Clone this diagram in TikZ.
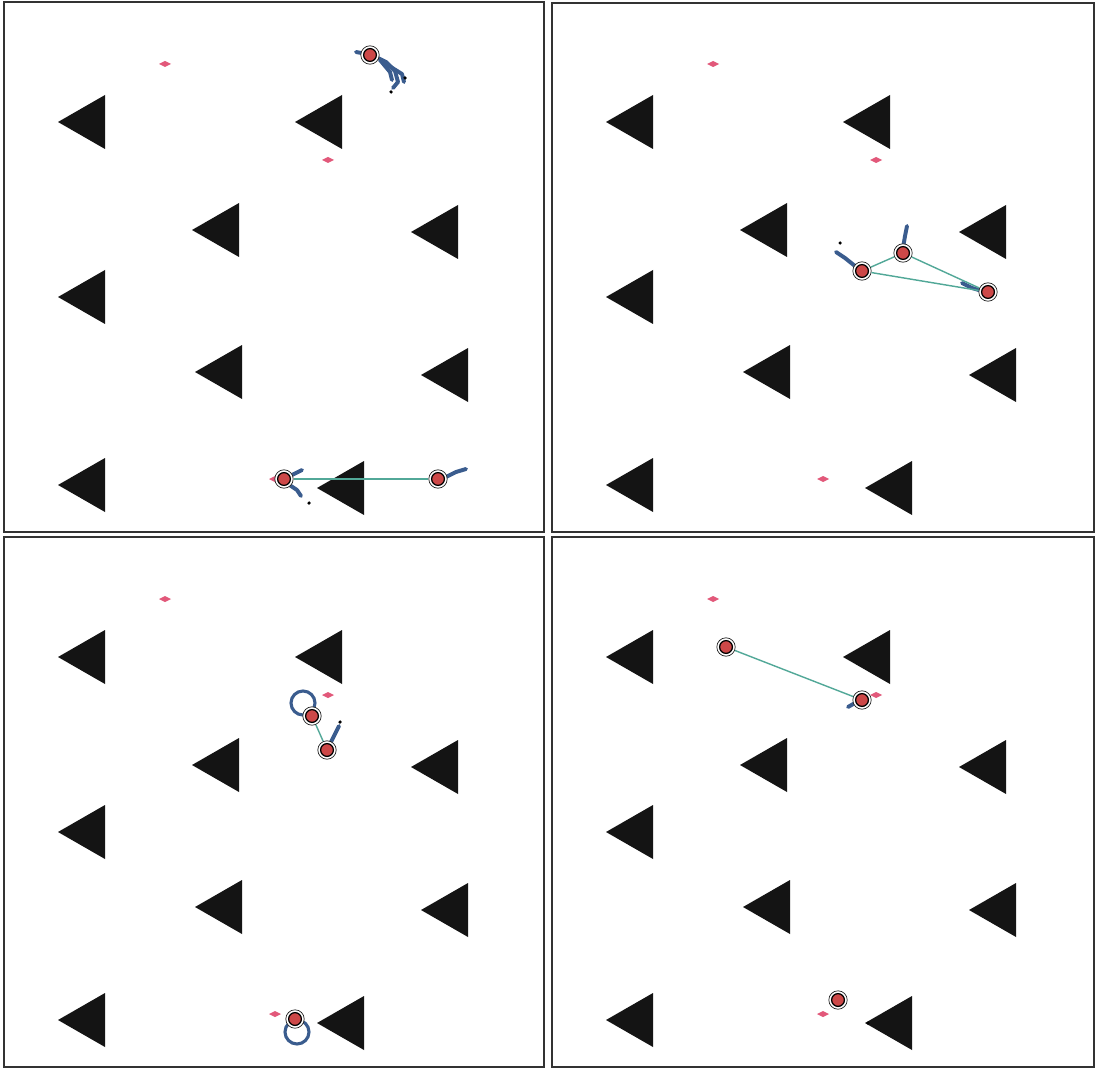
\documentclass[tikz,border=0pt]{standalone}
\usepackage{xcolor}
\usepackage{tikz}
\usetikzlibrary{arrows.meta,positioning,shapes.geometric}

\definecolor{goalpink}{RGB}{226,88,122}
\definecolor{linkteal}{RGB}{82,168,152}
\definecolor{trailblue}{RGB}{58,92,142}
\definecolor{bodyred}{RGB}{205,72,72}
\definecolor{obstblack}{RGB}{20,20,20}

\newcommand{\obst}[2]{\fill[obstblack] (#1,#2) -- ++(47,-27) -- ++(0,54) -- cycle;}
\newcommand{\goal}[2]{\fill[goalpink] (#1,#2) +(-6,0) -- +(0,-3) -- +(6,0) -- +(0,3) -- cycle;}
\newcommand{\field}{%
  \obst{58}{122} \obst{295}{122}
  \obst{192}{230} \obst{411}{232}
  \obst{58}{297}
  \obst{195}{372} \obst{421}{375}
  \obst{58}{485} \obst{317}{488}
  \goal{165}{64} \goal{328}{160} \goal{275}{479}}

\begin{document}
\begin{tikzpicture}[x=0.025cm, y=-0.025cm,
    frame/.style={draw=black!80, line width=1.8pt},
    robot/.style={circle, draw=black!85, line width=0.5pt, minimum size=0.46cm, inner sep=0pt, fill=white,
      path picture={\fill[bodyred, draw=black, line width=0.9pt] (path picture bounding box.center) circle (0.16cm);}},
    link/.style={draw=linkteal, line width=1pt},
    trail/.style={draw=trailblue, line width=2.8pt, line cap=round, line join=round},
    ring/.style={circle, draw=trailblue, line width=2.2pt, minimum size=0.6cm, inner sep=0pt},
    dot/.style={circle, fill=black, inner sep=0pt, minimum size=2.5pt}]
  \useasboundingbox (0,0) rectangle (1096,1069);
  \fill[white] (0,0) rectangle (1096,1069);

  \draw[frame] (4,2) rectangle (544,532);
  \draw[frame] (552,3) rectangle (1094,532);
  \draw[frame] (4,537) rectangle (544,1067);
  \draw[frame] (552,537) rectangle (1094,1067);

  \field
  \begin{scope}[shift={(548,0)}] \field \end{scope}
  \begin{scope}[shift={(0,535)}] \field \end{scope}
  \begin{scope}[shift={(548,535)}] \field \end{scope}

  % trails
  \draw[trail] (356,52) -- (372,55) -- (386,62) -- (395,71) -- (398,82) -- (393,88);
  \draw[trail] (386,64) -- (402,74) -- (404,82);
  \draw[trail] (380,60) -- (390,72) -- (392,80);
  \draw[trail] (292,475) -- (302,470);
  \draw[trail] (288,484) -- (297,490) -- (301,496);
  \draw[trail] (446,477) -- (456,472) -- (466,469);
  \draw[trail] (855,266) -- (845,258) -- (836,252);
  \draw[trail] (903,248) -- (905,236) -- (907,226);
  \draw[trail] (962,283) -- (972,288) -- (982,291);
  \draw[trail] (331,742) -- (336,732) -- (339,726);
  \draw[trail] (855,703) -- (848,707);
  \node[dot] (d1) at (405,78) {};
  \node[dot] (d2) at (391,92) {};
  \node[dot] (d3) at (309,503) {};
  \node[dot] (d4) at (840,243) {};
  \node[dot] (d5) at (340,722) {};
  \node[dot] (d6) at (868,1023) {};

  % panel 1
  \node[robot] (a1) at (370,55) {};
  \node[robot] (a2) at (284,479) {};
  \node[robot] (a3) at (438,479) {};
  \draw[link] (a2) -- (a3);

  % panel 2
  \node[robot] (b1) at (862,271) {};
  \node[robot] (b2) at (903,253) {};
  \node[robot] (b3) at (988,292) {};
  \draw[link] (b1) -- (b2);
  \draw[link] (b2) -- (b3);
  \draw[link] (b1) -- (b3);

  % panel 3
  \node[ring] (g1) at (303,703) {};
  \node[ring] (g2) at (297,1032) {};
  \node[robot] (c1) at (312,716) {};
  \node[robot] (c2) at (327,750) {};
  \node[robot] (c3) at (295,1019) {};
  \draw[link] (c1) -- (c2);

  % panel 4
  \node[robot] (e1) at (726,647) {};
  \node[robot] (e2) at (862,700) {};
  \node[robot] (e3) at (838,1000) {};
  \draw[link] (e1) -- (e2);
\end{tikzpicture}
\end{document}
